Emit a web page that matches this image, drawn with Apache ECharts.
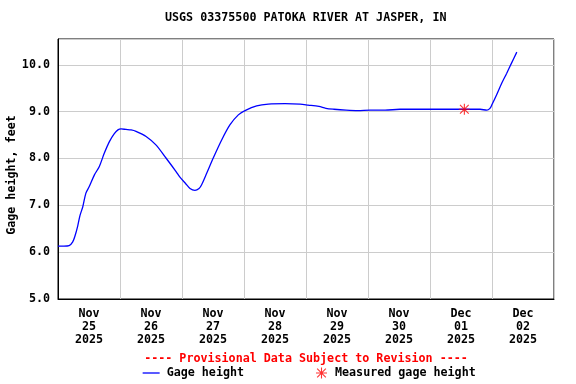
<!DOCTYPE html>
<html>
<head>
<meta charset="utf-8">
<script src="https://cdn.jsdelivr.net/npm/echarts@6/dist/echarts.min.js"></script>
<style>html,body{margin:0;padding:0;background:#fff;}#chart{width:576px;height:384px;}</style>
</head>
<body>
<div id="chart"></div>
<script>
// Hours since 2025-11-25 00:00
var gageHours = [0,2.3,4.3,5.7,6.6,7.6,8.5,9.6,10.8,12.1,14.1,16.0,17.9,19.9,21.8,23.2,24.4,26.3,28.3,30.2,34.1,37.9,41.8,45.7,47.2,49.3,51.1,53.0,54.6,55.6,57.6,60.1,63.4,66.6,69.8,72.4,76.9,81.4,87.9,93.7,96.8,101.0,103.7,106.8,111.5,116.1,120.8,126.6,132.4,144.0,155.6,163.4,166.0,167.2,168.0,169.8,171.8,173.7,175.6,177.6];
var gageHeight = [6.13,6.13,6.14,6.22,6.35,6.55,6.78,6.97,7.26,7.40,7.65,7.83,8.11,8.36,8.53,8.61,8.63,8.62,8.61,8.58,8.47,8.29,8.01,7.72,7.60,7.47,7.36,7.32,7.36,7.44,7.69,8.01,8.40,8.72,8.93,9.02,9.12,9.16,9.17,9.16,9.14,9.11,9.07,9.05,9.03,9.02,9.03,9.03,9.05,9.05,9.05,9.05,9.03,9.07,9.15,9.36,9.61,9.82,10.04,10.27];
var measuredHours = [157.3];
var measuredHeight = [9.05];
var dayLabels = ['Nov\n25\n2025','Nov\n26\n2025','Nov\n27\n2025','Nov\n28\n2025','Nov\n29\n2025','Nov\n30\n2025','Dec\n01\n2025','Dec\n02\n2025'];
var yTicks = [5,6,7,8,9,10];

var FONT = '"DejaVu Sans Mono", "Liberation Mono", monospace';
var FS = 11.7;
var asterisk = 'path://M0 9H20V11H0Z M9 0H11V20H9Z M1.4 2.8L2.8 1.4L18.6 17.2L17.2 18.6Z M17.2 1.4L18.6 2.8L2.8 18.6L1.4 17.2Z';

var chart = echarts.init(document.getElementById('chart'), null, {renderer: 'canvas'});
var gageData = gageHours.map(function (h, i) { return [h, gageHeight[i]]; });
var measData = measuredHours.map(function (h, i) { return [h, measuredHeight[i]]; });

chart.setOption({
  animation: false,
  backgroundColor: '#ffffff',
  title: {
    text: 'USGS 03375500 PATOKA RIVER AT JASPER, IN',
    left: 165, top: 12, padding: 0,
    textStyle: {fontFamily: FONT, fontSize: FS, fontWeight: 'bold', color: '#000'}
  },
  grid: {left: 58, right: 22, top: 39, bottom: 85, show: true, borderColor: '#000', borderWidth: 1, backgroundColor: 'transparent'},
  legend: [{
    data: [{name: 'Gage height', itemStyle: {opacity: 0}, lineStyle: {color: '#0000ff', width: 1.3}}],
    left: 142, top: 367, padding: 0,
    itemWidth: 17, itemHeight: 11,
    textStyle: {fontFamily: FONT, fontSize: FS, fontWeight: 'bold', color: '#000', padding: [0, 0, 0, 2]}
  }, {
    data: [{name: 'Measured gage height', icon: asterisk}],
    left: 316, top: 367, padding: 0,
    itemWidth: 11, itemHeight: 11,
    textStyle: {fontFamily: FONT, fontSize: FS, fontWeight: 'bold', color: '#000', padding: [0, 0, 0, 3]}
  }],
  xAxis: [{
    type: 'value', min: 0, max: 192, interval: 24,
    axisLine: {show: true, lineStyle: {color: '#000', width: 1}},
    axisTick: {show: false},
    axisLabel: {show: false},
    splitLine: {show: true, lineStyle: {color: '#cccccc', width: 1}}
  }, {
    type: 'value', min: 0, max: 192, interval: 12, position: 'bottom',
    axisLine: {show: false}, axisTick: {show: false}, splitLine: {show: false},
    axisLabel: {
      show: true, margin: 8, lineHeight: 13.3,
      fontFamily: FONT, fontSize: FS, fontWeight: 'bold', color: '#000', align: 'center',
      formatter: function (v) {
        var k = (v - 12) / 24;
        if (Math.abs(k - Math.round(k)) < 1e-6 && k >= 0 && k < dayLabels.length) return dayLabels[Math.round(k)];
        return '';
      }
    }
  }],
  yAxis: {
    type: 'value', min: 5, max: 10.55, interval: 1,
    axisLine: {show: true, lineStyle: {color: '#000', width: 1}},
    axisTick: {show: false},
    splitLine: {show: true, lineStyle: {color: '#cccccc', width: 1}},
    axisLabel: {
      margin: 8, fontFamily: FONT, fontSize: FS, fontWeight: 'bold', color: '#000',
      formatter: function (v) {
        return yTicks.indexOf(Math.round(v * 1000) / 1000) >= 0 ? v.toFixed(1) : '';
      }
    }
  },
  graphic: [{
    type: 'text', x: 12, y: 175, rotation: Math.PI / 2,
    style: {text: 'Gage height, feet', fontFamily: FONT, fontSize: FS, fontWeight: 'bold', fill: '#000', align: 'center', verticalAlign: 'middle'}
  }, {
    type: 'text', x: 306, y: 359,
    style: {text: '---- Provisional Data Subject to Revision ----', fontFamily: FONT, fontSize: FS, fontWeight: 'bold', fill: '#ff0000', align: 'center', verticalAlign: 'middle'}
  }],
  series: [{
    name: 'Gage height', type: 'line', xAxisIndex: 0, yAxisIndex: 0,
    data: gageData, symbol: 'none', smooth: 0.3,
    lineStyle: {color: '#0000ff', width: 1.3}, itemStyle: {color: '#0000ff'}
  }, {
    name: 'Measured gage height', type: 'scatter', xAxisIndex: 0, yAxisIndex: 0,
    data: measData, symbol: asterisk, symbolSize: 11,
    itemStyle: {color: '#ff0000'}, z: 5
  }]
});
</script>
</body>
</html>
